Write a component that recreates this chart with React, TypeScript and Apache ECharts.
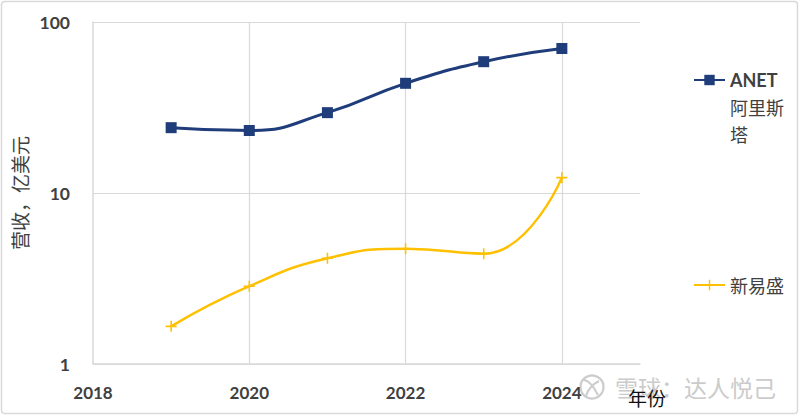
import React, { useEffect, useRef } from "react";
import * as echarts from "echarts";

const years = [2019, 2020, 2021, 2022, 2023, 2024];
const anetRevenue = [24.1, 23.2, 29.5, 43.8, 58.6, 70.0];
const eoptolinkRevenue = [1.66, 2.85, 4.15, 4.72, 4.42, 12.3];
const seriesNames = ["ANET 阿里斯塔", "新易盛"];
const yAxisTitle = "营收，亿美元";
const xAxisTitle = "年份";
const watermark = "雪球：达人悦己";

const labelFont = "Lato, 'Open Sans', sans-serif";
const cjkFont = "'Noto Sans CJK SC', 'Noto Sans', sans-serif";

export default function App() {
  const ref = useRef<HTMLDivElement>(null);
  useEffect(() => {
    if (!ref.current) return;
    const chart = echarts.init(ref.current, undefined, { renderer: "svg" });
    const navy = "#1f3c7b";
    const gold = "#ffc000";
    chart.setOption({
      animation: false,
      backgroundColor: "#ffffff",
      grid: { left: 93, right: 160, top: 22, bottom: 52 },
      xAxis: {
        type: "value",
        min: 2018,
        max: 2025,
        interval: 2,
        name: xAxisTitle,
        nameLocation: "end",
        nameGap: 7,
        nameTextStyle: {
          fontFamily: cjkFont,
          fontSize: 19,
          color: "#111111",
          align: "center",
          verticalAlign: "top",
          padding: [24, 0, 0, 0],
        },
        axisLine: { show: true, lineStyle: { color: "#d9d9d9", width: 1.5 } },
        axisTick: { show: false },
        axisLabel: {
          showMaxLabel: false,
          margin: 20,
          fontFamily: labelFont,
          fontWeight: "bold",
          fontSize: 17,
          color: "#404040",
          formatter: (v: number) => (v === 2025 ? "" : String(v)),
        },
        splitLine: {
          show: true,
          showMinLine: false,
          showMaxLine: false,
          lineStyle: { color: "#d9d9d9", width: 1.2 },
        },
      },
      yAxis: {
        type: "log",
        logBase: 10,
        min: 1,
        max: 100,
        name: yAxisTitle,
        nameLocation: "middle",
        nameGap: 63,
        nameTextStyle: { fontFamily: cjkFont, fontSize: 19, color: "#404040" },
        axisLine: { show: true, lineStyle: { color: "#d9d9d9", width: 1.5 } },
        axisTick: { show: false },
        axisLabel: {
          margin: 23,
          fontFamily: labelFont,
          fontWeight: "bold",
          fontSize: 17.5,
          color: "#404040",
        },
        splitLine: { show: true, lineStyle: { color: "#d9d9d9", width: 1.2 } },
      },
      legend: [
        {
          data: [seriesNames[0]],
          orient: "vertical",
          left: 693,
          top: 12.5,
          padding: 0,
          itemWidth: 31,
          itemHeight: 13,
          formatter: () => "\n\n{a|ANET}\n阿里斯\n塔",
          textStyle: {
            fontFamily: cjkFont,
            fontSize: 18,
            color: "#404040",
            lineHeight: 27,
            rich: {
              a: {
                fontFamily: labelFont,
                fontWeight: "bold",
                fontSize: 18,
                color: "#404040",
                lineHeight: 27,
              },
            },
          },
        },
        {
          data: [seriesNames[1]],
          orient: "vertical",
          left: 693,
          top: 271.5,
          padding: 0,
          itemWidth: 31,
          itemHeight: 13,
          textStyle: {
            fontFamily: cjkFont,
            fontSize: 18,
            color: "#404040",
            lineHeight: 27,
          },
        },
      ],
      series: [
        {
          name: seriesNames[0],
          type: "line",
          smooth: 0.5,
          data: years.map((y, i) => [y, anetRevenue[i]]),
          symbol: "rect",
          symbolSize: 11,
          lineStyle: { color: navy, width: 3 },
          itemStyle: { color: navy },
          z: 3,
        },
        {
          name: seriesNames[1],
          type: "line",
          smooth: 0.5,
          data: years.map((y, i) => [y, eoptolinkRevenue[i]]),
          symbol: "path://M4.3,0h1.4v4.3h4.3v1.4h-4.3v4.3h-1.4v-4.3h-4.3v-1.4h4.3z",
          symbolSize: 11,
          lineStyle: { color: gold, width: 2.5 },
          itemStyle: { color: gold },
          z: 2,
        },
      ],
      graphic: [
        {
          type: "rect",
          z: -1,
          silent: true,
          shape: { x: 1.5, y: 1.5, width: 796, height: 412, r: 3 },
          style: { fill: "none", stroke: "#d9d9d9", lineWidth: 1.5 },
        },
        {
          type: "circle",
          z: -1,
          silent: true,
          shape: { cx: 592, cy: 387, r: 11.5 },
          style: { fill: "none", stroke: "#cccccc", lineWidth: 2.2 },
        },
        {
          type: "bezierCurve",
          z: -1,
          silent: true,
          shape: { x1: 584, y1: 380, x2: 598, y2: 395, cpx1: 591, cpy1: 381 },
          style: { fill: "none", stroke: "#cccccc", lineWidth: 2 },
        },
        {
          type: "bezierCurve",
          z: -1,
          silent: true,
          shape: { x1: 599, y1: 381, x2: 586, y2: 396, cpx1: 589, cpy1: 386 },
          style: { fill: "none", stroke: "#cccccc", lineWidth: 2 },
        },
        {
          type: "text",
          z: -1,
          silent: true,
          x: 615,
          y: 387,
          style: {
            text: watermark,
            fontFamily: cjkFont,
            fontSize: 23,
            fill: "#cbcbcb",
            verticalAlign: "middle",
          },
        },
      ],
    });
    return () => chart.dispose();
  }, []);
  return (
    <div
      ref={ref}
      style={{ position: "fixed", left: 0, top: 0, width: 800, height: 416 }}
    />
  );
}
